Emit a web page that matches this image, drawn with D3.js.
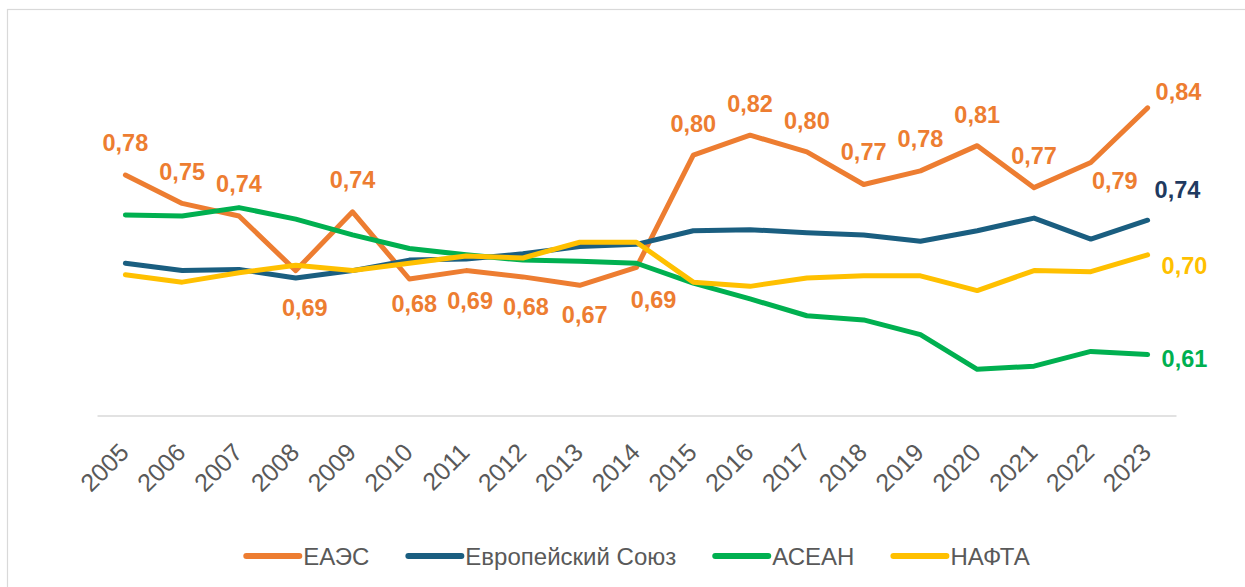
<!DOCTYPE html>
<html>
<head>
<meta charset="utf-8">
<script src="https://cdn.jsdelivr.net/npm/d3@7"></script>
<style>
  body { margin: 0; background: #fff; }
  svg { display: block; font-family: "Liberation Sans", Arial, sans-serif; }
</style>
</head>
<body>
<div id="vis"></div>
<script>
const FRAME_WIDTH = 1245;
const FRAME_HEIGHT = 587;

// data
const years = ["2005","2006","2007","2008","2009","2010","2011","2012","2013","2014",
               "2015","2016","2017","2018","2019","2020","2021","2022","2023"];
const eaec  = [0.779,0.752,0.740,0.688,0.744,0.680,0.688,0.682,0.674,0.691,
               0.798,0.817,0.801,0.770,0.783,0.807,0.767,0.791,0.843];
const eu    = [0.695,0.688,0.689,0.681,0.688,0.698,0.699,0.704,0.711,0.713,
               0.726,0.727,0.724,0.722,0.716,0.726,0.738,0.718,0.736];
const asean = [0.741,0.740,0.748,0.737,0.722,0.709,0.703,0.698,0.697,0.695,
               0.676,0.661,0.645,0.641,0.627,0.594,0.597,0.611,0.608];
const nafta = [0.684,0.677,0.686,0.693,0.688,0.695,0.702,0.700,0.715,0.715,
               0.677,0.673,0.681,0.683,0.683,0.669,0.688,0.687,0.703];

const seriesNames = ["ЕАЭС", "Европейский Союз", "АСЕАН", "НАФТА"];
const seriesColors = ["#ED7D31", "#1A5E80", "#00B050", "#FFC000"];

// label nudges [dx, dy] relative to the point (layout only)
const EAEC_LABEL_NUDGE = [[0,-24],[0,-23],[0,-24],[9,45],[0,-24],[5,33],[4,38],[3,38],[5,38],[17,41],
                          [0,-23],[0,-23],[0,-23],[0,-25],[0,-24],[0,-23],[0,-24],[24,27],[8,-8]];
const END_LABEL_NUDGE = {1: [7,-22], 2: [14,12], 3: [14,19]};
const END_LABEL_COLORS = {1: "#1F3A60", 2: "#00B050", 3: "#FFC000"};

const series = [eaec, eu, asean, nafta];

const svg = d3.select("#vis").append("svg")
  .attr("width", FRAME_WIDTH)
  .attr("height", FRAME_HEIGHT);

// chart border
svg.append("rect")
  .attr("x", 7.5).attr("y", 9.5)
  .attr("width", 1260).attr("height", 600)
  .attr("fill", "none")
  .attr("stroke", "#d9d9d9")
  .attr("stroke-width", 1.2);

const X = d3.scalePoint().domain(years).range([97, 1176]).padding(0.5);
const Y = d3.scaleLinear().domain([0.55, 0.90]).range([415.5, 48]);

// x axis
const xAxis = svg.append("g")
  .attr("transform", "translate(0," + Y(0.55) + ")")
  .call(d3.axisBottom(X).tickSize(0).tickSizeOuter(0));
xAxis.select(".domain").attr("stroke", "#d9d9d9").attr("stroke-width", 1.5);
xAxis.selectAll(".tick text")
  .attr("fill", "#595959")
  .attr("font-size", 25)
  .attr("font-family", "Liberation Sans, Arial, sans-serif")
  .attr("text-anchor", "end")
  .attr("dy", 0)
  .attr("y", 0)
  .attr("transform", "translate(4.5,38.5) rotate(-45)");

// lines
const line = d3.line()
  .x((d, i) => X(years[i]))
  .y(d => Y(d));

svg.selectAll(".series")
  .data(series)
  .enter().append("path")
  .attr("class", "series")
  .attr("d", d => line(d))
  .attr("fill", "none")
  .attr("stroke", (d, i) => seriesColors[i])
  .attr("stroke-width", 5)
  .attr("stroke-linejoin", "round")
  .attr("stroke-linecap", "round");

const fmt = v => d3.format(".2f")(v).replace(".", ",");

// EAEC labels
svg.selectAll(".lbl-eaec")
  .data(eaec)
  .enter().append("text")
  .attr("class", "lbl-eaec")
  .attr("x", (d, i) => X(years[i]) + EAEC_LABEL_NUDGE[i][0])
  .attr("y", (d, i) => Y(d) + EAEC_LABEL_NUDGE[i][1])
  .attr("text-anchor", (d, i) => i === years.length - 1 ? "start" : "middle")
  .attr("font-size", 23.5)
  .attr("font-weight", "bold")
  .attr("fill", seriesColors[0])
  .text(d => fmt(d));

// end labels for the other series
[1, 2, 3].forEach(k => {
  const last = series[k].length - 1;
  svg.append("text")
    .attr("x", X(years[last]) + END_LABEL_NUDGE[k][0])
    .attr("y", Y(series[k][last]) + END_LABEL_NUDGE[k][1])
    .attr("font-size", 23.5)
    .attr("font-weight", "bold")
    .attr("fill", END_LABEL_COLORS[k])
    .text(fmt(series[k][last]));
});

// legend
const legend = svg.append("g");
let cx = 0;
seriesNames.forEach((name, i) => {
  const item = legend.append("g").attr("transform", "translate(" + cx + ",0)");
  item.append("line")
    .attr("x1", 3).attr("x2", 56)
    .attr("y1", 0).attr("y2", 0)
    .attr("stroke", seriesColors[i])
    .attr("stroke-width", 6)
    .attr("stroke-linecap", "round");
  const t = item.append("text")
    .attr("x", 60).attr("y", 9)
    .attr("font-size", 24)
    .attr("fill", "#595959")
    .text(name);
  cx += 60 + t.node().getComputedTextLength() + 36;
});
const legendWidth = cx - 36;
legend.attr("transform", "translate(" + (636.5 - legendWidth / 2) + ",556)");
</script>
</body>
</html>
